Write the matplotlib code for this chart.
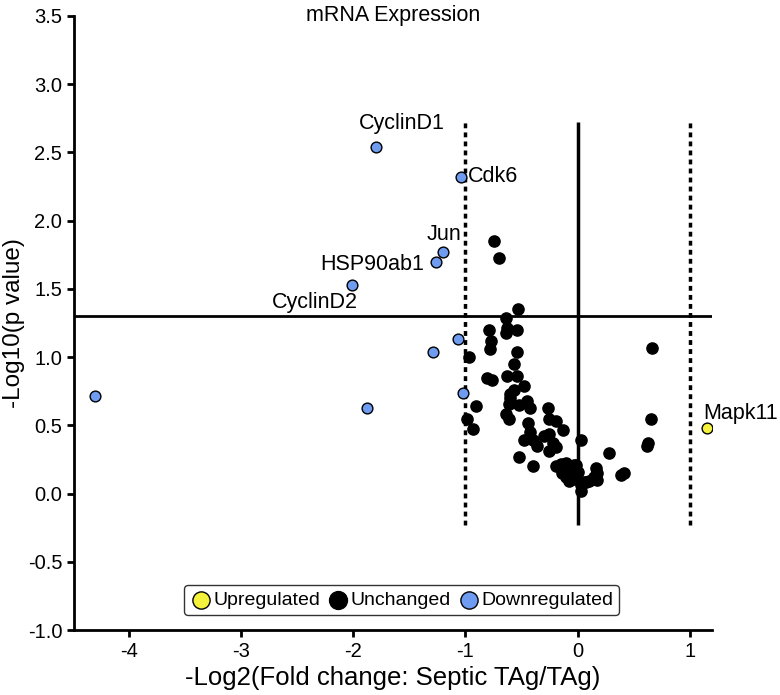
import numpy as np
import matplotlib.pyplot as plt

plt.rcParams['font.family'] = ['Liberation Sans', 'DejaVu Sans']
plt.rcParams['axes.unicode_minus'] = False

# downregulated genes (blue)
down_x = [-1.80, -1.04, -1.20, -1.26, -2.01, -1.29, -1.07, -1.02, -1.88, -4.30]
down_y = [2.54, 2.32, 1.77, 1.70, 1.53, 1.04, 1.13, 0.74, 0.63, 0.715]
down_lab = ['CyclinD1', 'Cdk6', 'Jun', 'HSP90ab1', 'CyclinD2', '', '', '', '', '']

# upregulated genes (yellow)
up_x = [1.158]
up_y = [0.483]
up_lab = ['Mapk11']

# unchanged genes (black)
unch_x = [-0.745, -0.70, -0.53, -0.64, -0.79, -0.63, -0.64, -0.54, -0.77, -0.78,
          -0.54, -0.97, -0.57, -0.81, -0.76, -0.63, -0.54, -0.48, -0.57, -0.60,
          -0.61, -0.52, -0.455, -0.42, -0.91, -0.64, -0.61, -0.985, -0.93, -0.265,
          -0.256, -0.19, -0.128, -0.44, -0.42, -0.48, -0.395, -0.36, -0.30, -0.256,
          -0.217, -0.196, -0.256, -0.518, -0.395, -0.196, -0.107, -0.077, -0.033, -0.107,
          -0.047, 0.0, 0.027, 0.28, 0.027, 0.16, 0.175, 0.145, 0.10, 0.056,
          0.175, 0.384, 0.41, 0.667, 0.658, 0.628, 0.617, -0.092, -0.063, -0.015,
          -0.033, 0.071, -0.15, -0.14, -0.08, 0.03, -0.60]
unch_y = [1.85, 1.73, 1.35, 1.29, 1.20, 1.21, 1.18, 1.20, 1.12, 1.06,
          1.04, 1.00, 0.95, 0.85, 0.83, 0.86, 0.86, 0.79, 0.76, 0.70,
          0.66, 0.65, 0.68, 0.63, 0.645, 0.58, 0.55, 0.55, 0.47, 0.625,
          0.55, 0.535, 0.466, 0.52, 0.45, 0.39, 0.39, 0.35, 0.42, 0.44,
          0.37, 0.34, 0.315, 0.266, 0.205, 0.205, 0.227, 0.185, 0.21, 0.124,
          0.136, 0.16, 0.39, 0.295, 0.02, 0.185, 0.149, 0.124, 0.095, 0.087,
          0.10, 0.136, 0.15, 1.065, 0.545, 0.37, 0.345, 0.21, 0.173, 0.21,
          0.11, 0.087, 0.22, 0.15, 0.09, 0.06, 0.73]

fig = plt.figure(figsize=(7.8, 6.95), dpi=100)
ax = fig.add_axes([0.095, 0.0935, 0.818, 0.8835])

# threshold lines
ax.axhline(1.3, color='black', lw=2, zorder=1)
ax.vlines(0, -0.23, 2.72, color='black', lw=2.5, zorder=1)
ax.vlines([-1, 1], -0.23, 2.72, color='black', lw=2.5, linestyles=(0, (1.4, 1.2)), zorder=1)

ax.scatter(unch_x, unch_y, s=65, color='black', edgecolor='black', zorder=3, label='Unchanged')
ax.scatter(down_x, down_y, s=60, color='#6f9cf1', edgecolor='black', lw=1, zorder=3, label='Downregulated')
ax.scatter(up_x, up_y, s=60, color='#f4f23c', edgecolor='black', lw=1, zorder=3, label='Upregulated')

# gene labels
fs = 15.5
ax.annotate(down_lab[0], (down_x[0], down_y[0]), xytext=(19, 9), textcoords='offset points', ha='center', va='bottom', fontsize=fs)
ax.annotate(down_lab[1], (down_x[1], down_y[1]), xytext=(5, 0), textcoords='offset points', ha='left', va='center', fontsize=fs)
ax.annotate(down_lab[2], (down_x[2], down_y[2]), xytext=(13, 5), textcoords='offset points', ha='right', va='bottom', fontsize=fs)
ax.annotate(down_lab[3], (down_x[3], down_y[3]), xytext=(-9, -2), textcoords='offset points', ha='right', va='center', fontsize=fs)
ax.annotate(down_lab[4], (down_x[4], down_y[4]), xytext=(-27, -5), textcoords='offset points', ha='center', va='top', fontsize=fs)
ax.annotate(up_lab[0], (up_x[0], up_y[0]), xytext=(-3, 6), textcoords='offset points', ha='left', va='baseline', fontsize=fs)

ax.text(0.5, 1.0, 'mRNA Expression', transform=ax.transAxes, ha='center', va='center', fontsize=15.5)

ax.set_xlim(-4.49, 1.2)
ax.set_ylim(-1.0, 3.5)
ax.set_xticks([-4, -3, -2, -1, 0, 1])
ax.set_yticks(np.arange(-1.0, 3.51, 0.5))
ax.set_yticklabels(['%.1f' % v for v in np.arange(-1.0, 3.51, 0.5)])
ax.tick_params(labelsize=14.5, width=2, length=5, direction='out')
for s in ['top', 'right']:
    ax.spines[s].set_visible(False)
for s in ['left', 'bottom']:
    ax.spines[s].set_linewidth(2)

ax.set_xlabel('-Log2(Fold change: Septic TAg/TAg)', fontsize=18.5, labelpad=4)
ax.set_ylabel('-Log10(p value)', fontsize=17.5)
ax.yaxis.set_label_coords(-0.077, 0.5)

h, l = ax.get_legend_handles_labels()
order = [2, 0, 1]
leg = ax.legend([h[i] for i in order], [l[i] for i in order], loc='center', bbox_to_anchor=(0.513, 0.049),
                ncol=3, fontsize=14, handletextpad=0.05, columnspacing=0.3, borderpad=0.3,
                handlelength=1.2, frameon=True, fancybox=True, markerscale=1.6)
leg.get_frame().set_edgecolor('black')
leg.get_frame().set_linewidth(1)

fig.savefig('out.png', dpi=100)
